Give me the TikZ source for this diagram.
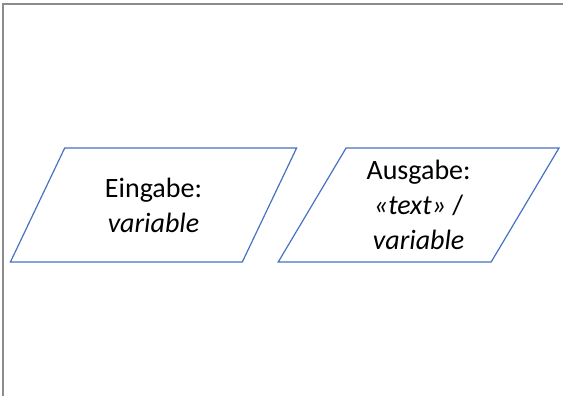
\documentclass[tikz,border=0pt]{standalone}
\usepackage{fontspec}
\setmainfont{Carlito}
\usepackage{xcolor}
\usetikzlibrary{shapes.geometric,positioning}
\definecolor{ioline}{HTML}{4472C4}
\definecolor{framegray}{HTML}{8C8C8C}
\tikzset{
  io/.style={
    trapezium,
    trapezium left angle=61.5,
    trapezium right angle=118.5,
    trapezium stretches=true,
    draw=ioline,
    line width=0.9pt,
    minimum width=215pt,
    minimum height=85.5pt,
    align=center,
    inner sep=0pt,
    text=black,
    font=\fontsize{21}{26.25}\selectfont
  },
  frame/.style={
    draw=framegray,
    line width=1.5pt
  }
}

\begin{document}
\begin{tikzpicture}[x=0.75pt,y=-0.75pt]
\useasboundingbox (0,0) rectangle (563,396);

% ---------------------------------------------------------------------------
% Frame
% ---------------------------------------------------------------------------
\coordinate (frameBL) at (2.5,396);
\coordinate (frameTL) at (2.5,3.5);
\coordinate (frameTR) at (563,3.5);
\draw[frame] (frameBL) -- (frameTL) -- (frameTR);

% ---------------------------------------------------------------------------
% Input / output
% ---------------------------------------------------------------------------
\node[io] (eingabe) at (153.5,205)
  {Eingabe:\\\textit{variable}};
\node[io, minimum width=211pt, right=31pt of eingabe] (ausgabe)
  {Ausgabe:\\\textit{«text»} /\\\textit{variable}};

\end{tikzpicture}
\end{document}
